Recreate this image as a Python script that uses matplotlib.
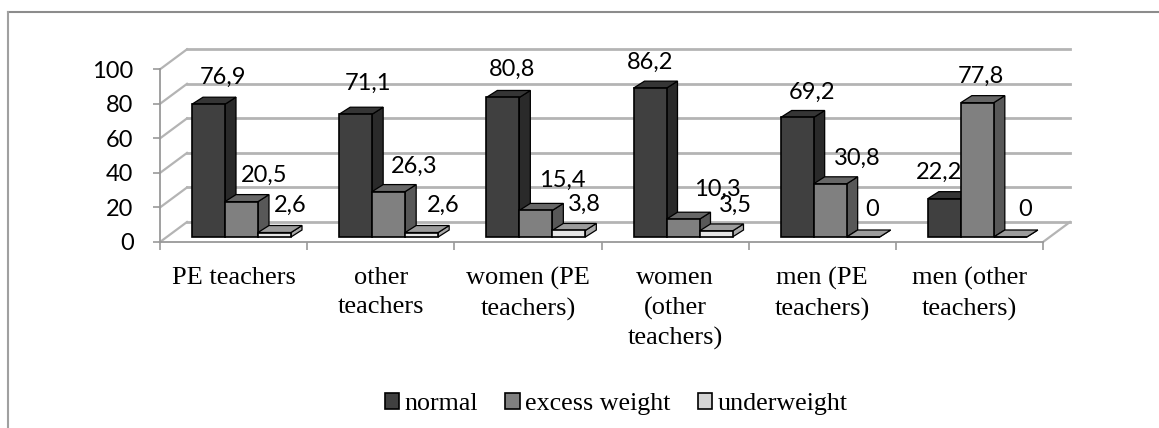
import matplotlib
matplotlib.use('Agg')
import matplotlib.pyplot as plt
from matplotlib.patches import Patch
from matplotlib.lines import Line2D

categories = ["PE teachers", "other\nteachers", "women (PE\nteachers)",
              "women\n(other\nteachers)", "men (PE\nteachers)", "men (other\nteachers)"]
series_names = ["normal", "excess weight", "underweight"]
normal = [76.9, 71.1, 80.8, 86.2, 69.2, 22.2]
excess = [20.5, 26.3, 15.4, 10.3, 30.8, 77.8]
under = [2.6, 2.6, 3.8, 3.5, 0, 0]
y_ticks = [0, 20, 40, 60, 80, 100]

# label offsets from the middle of the bar top, in pixels (hand placed)
normal_off = [(14.5, 27), (12.3, 31), (9, 28.5), (0, 26), (14.7, 25.5), (-5.5, 26.7)]
excess_off = [(22.5, 26.6), (25.3, 25.6), (26, 30.4), (34, 30), (26.7, 25.8), (3.5, 26.6)]
under_off = [(15.5, 27.5), (21.3, 27.5), (16, 26.4), (19, 26), (8.7, 28), (14.5, 27)]

# fake 3D look, front / side / top colours
colors = [("#404040", "#2a2a2a", "#353535"),
          ("#808080", "#585858", "#676767"),
          ("#e6e6e6", "#a8a8a8", "#9c9c9c")]
legend_colors = ["#404040", "#808080", "#d4d4d4"]

W, H = 1159, 428
fig = plt.figure(figsize=(W / 100, H / 100), dpi=100)
ax = fig.add_axes([160 / W, (H - 242) / H, 883 / W, 172.7 / H])
ax.set_xlim(0, 6)
ax.set_ylim(0, 100)
ax.patch.set_visible(False)

px_x = 6 / 883
px_y = 100 / 172.7
wall_dx = 27 * px_x
wall_dy = 20 * px_y
bar_dx = 11 * px_x
bar_dy = 7 * px_y
bar_w = 33 * px_x
bar_start = 32 * px_x
bar_base = 5 * px_y

grid_col = "#b4b4b4"

# back wall + side wall
for v in y_ticks:
    ax.plot([wall_dx, 6 + wall_dx], [v + wall_dy, v + wall_dy], color=grid_col, lw=2,
            clip_on=False, zorder=1)
    ax.plot([0, wall_dx], [v, v + wall_dy], color=grid_col, lw=1.6, clip_on=False, zorder=1)
ax.plot([6, 6 + wall_dx], [0, wall_dy], color=grid_col, lw=1.6, clip_on=False, zorder=1)

all_values = [normal, excess, under]
all_off = [normal_off, excess_off, under_off]
for j in range(3):
    front, side, top = colors[j]
    z = 3 + j
    for i in range(6):
        v = all_values[j][i]
        x0 = i + bar_start + j * bar_w
        x1 = x0 + bar_w
        y0 = bar_base
        y1 = bar_base + v
        ax.fill([x1, x1 + bar_dx, x1 + bar_dx, x1], [y0, y0 + bar_dy, y1 + bar_dy, y1],
                facecolor=side, edgecolor="black", lw=0.9, clip_on=False, zorder=z)
        ax.fill([x0, x0 + bar_dx, x1 + bar_dx, x1], [y1, y1 + bar_dy, y1 + bar_dy, y1],
                facecolor=top, edgecolor="black", lw=0.9, clip_on=False, zorder=z)
        ax.bar(x0, v, width=bar_w, bottom=y0, align='edge', color=front, edgecolor="black",
               lw=1.2, clip_on=False, zorder=z)
        ax.annotate(str(v).replace(".", ",") if v != 0 else "0",
                    xy=(x0 + bar_w / 2, y1), xytext=all_off[j][i], textcoords='offset pixels',
                    ha='center', va='center', fontsize=17, family='Lato', color='black',
                    annotation_clip=False, zorder=z + 0.5)

for s in ['top', 'right']:
    ax.spines[s].set_visible(False)
for s in ['left', 'bottom']:
    ax.spines[s].set_color("#999999")
    ax.spines[s].set_linewidth(1.3)

ax.set_yticks(y_ticks)
ax.set_yticklabels([str(v) for v in y_ticks], fontsize=17, family='Lato')
ax.tick_params(axis='y', length=5, width=1.2, color="#999999", pad=14)
ax.set_xticks(range(7))
ax.set_xticklabels([])
ax.tick_params(axis='x', which='major', length=5.5, width=1.2, color="#999999")
ax.set_xticks([i + 0.5 for i in range(6)], minor=True)
ax.set_xticklabels(categories, minor=True, fontsize=19, family='Liberation Serif', linespacing=1.42)
ax.tick_params(axis='x', which='minor', length=0, pad=18)

handles = [Patch(facecolor=legend_colors[k], edgecolor="black", lw=1.2) for k in range(3)]
fig.legend(handles, series_names, loc='center', bbox_to_anchor=(616 / W, (H - 404) / H),
           ncols=3, frameon=False, prop={'family': 'Liberation Serif', 'size': 18.7},
           handlelength=0.55, handleheight=0.6, handletextpad=0.2, columnspacing=1.06,
           borderpad=0, borderaxespad=0)

# frame of the picture, only top and left show
fig.add_artist(Line2D([8 / W, 1], [(H - 12) / H, (H - 12) / H], color="#8c8c8c", lw=1.5,
                      transform=fig.transFigure))
fig.add_artist(Line2D([8 / W, 8 / W], [0, (H - 12) / H], color="#a0a0a0", lw=1.5,
                      transform=fig.transFigure))

plt.savefig("out.png", dpi=100)
plt.close()
